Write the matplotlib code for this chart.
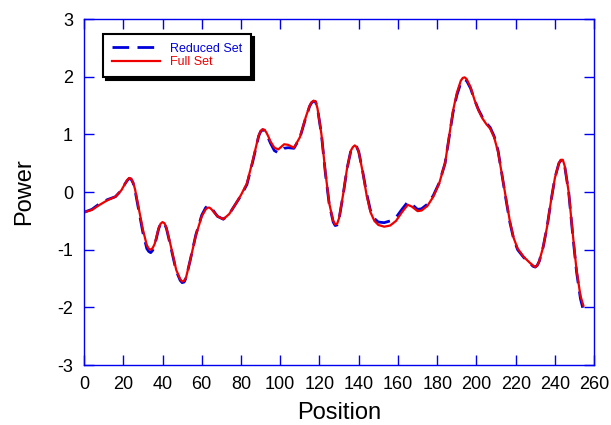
import matplotlib
matplotlib.use("Agg")
import matplotlib.pyplot as plt

plt.rcParams["font.family"] = ["Liberation Sans", "DejaVu Sans"]
plt.rcParams["axes.unicode_minus"] = False

position = [0, 4, 8, 12, 16, 19, 21, 22, 23, 24, 25, 26, 28, 30, 32, 33, 34, 35, 36,
            38, 39, 40, 41, 42, 44, 47, 49, 50, 51, 52, 54, 57, 60, 62, 63, 64, 65,
            68, 71, 74, 77, 80, 83, 86, 89, 90, 91, 92, 93, 94, 95, 97, 99, 102, 104,
            107, 110, 113, 115, 116, 117, 118, 119, 121, 123, 125, 127, 128, 129,
            130, 132, 134, 136, 137, 138, 139, 140, 142, 144, 146, 148, 150, 153,
            156, 159, 162, 165, 167, 170, 172, 175, 178, 181, 184, 186, 188, 190,
            192, 193, 194, 195, 197, 199, 201, 203, 205, 207, 209, 211, 213, 215,
            217, 219, 221, 224, 227, 229, 230, 231, 232, 234, 236, 238, 240, 242,
            243, 244, 245, 247, 249, 251, 253, 254.5]

full_set = [-0.35, -0.31, -0.22, -0.14, -0.08, 0.03, 0.15, 0.21, 0.245, 0.235, 0.17,
            0.05, -0.3, -0.65, -0.92, -0.98, -1.0, -0.97, -0.9, -0.63, -0.55, -0.52,
            -0.54, -0.62, -0.9, -1.35, -1.51, -1.55, -1.54, -1.48, -1.2, -0.75, -0.42,
            -0.3, -0.27, -0.27, -0.3, -0.42, -0.47, -0.38, -0.22, -0.05, 0.15, 0.55,
            0.98, 1.06, 1.09, 1.08, 1.03, 0.96, 0.88, 0.77, 0.74, 0.83, 0.82, 0.77,
            0.95, 1.3, 1.5, 1.56, 1.585, 1.575, 1.45, 1.0, 0.35, -0.2, -0.5, -0.56,
            -0.55, -0.45, -0.05, 0.4, 0.72, 0.78, 0.81, 0.78, 0.7, 0.35, -0.05, -0.35,
            -0.5, -0.57, -0.6, -0.58, -0.5, -0.35, -0.22, -0.25, -0.33, -0.32, -0.24,
            -0.08, 0.15, 0.5, 0.95, 1.4, 1.72, 1.93, 1.98, 1.99, 1.96, 1.82, 1.6, 1.42,
            1.28, 1.18, 1.1, 0.95, 0.7, 0.3, -0.1, -0.5, -0.8, -0.98, -1.12, -1.22,
            -1.28, -1.3, -1.27, -1.2, -0.95, -0.6, -0.15, 0.25, 0.5, 0.56, 0.56, 0.45,
            0.0, -0.7, -1.35, -1.8, -1.97]

reduced_set = [-0.35, -0.3, -0.2, -0.13, -0.08, 0.03, 0.15, 0.2, 0.235, 0.225, 0.16,
               0.03, -0.33, -0.7, -0.98, -1.03, -1.05, -1.01, -0.93, -0.64, -0.55,
               -0.52, -0.55, -0.63, -0.92, -1.37, -1.53, -1.57, -1.56, -1.49, -1.2,
               -0.74, -0.4, -0.27, -0.24, -0.24, -0.28, -0.42, -0.47, -0.38, -0.22,
               -0.06, 0.13, 0.53, 0.97, 1.05, 1.08, 1.07, 1.01, 0.93, 0.85, 0.72, 0.68,
               0.76, 0.77, 0.76, 0.94, 1.29, 1.49, 1.55, 1.575, 1.565, 1.45, 1.0,
               0.33, -0.22, -0.52, -0.58, -0.57, -0.46, -0.06, 0.4, 0.72, 0.77, 0.8,
               0.78, 0.7, 0.36, -0.02, -0.32, -0.46, -0.52, -0.53, -0.5, -0.44, -0.3,
               -0.17, -0.21, -0.3, -0.29, -0.21, -0.06, 0.16, 0.5, 0.93, 1.37, 1.68,
               1.89, 1.94, 1.95, 1.93, 1.8, 1.6, 1.43, 1.3, 1.2, 1.12, 0.97, 0.72, 0.3,
               -0.12, -0.52, -0.82, -1.0, -1.13, -1.23, -1.29, -1.3, -1.27, -1.2,
               -0.95, -0.6, -0.15, 0.25, 0.5, 0.55, 0.55, 0.44, 0.0, -0.72, -1.38,
               -1.85, -2.05]

fig = plt.figure(figsize=(6.11, 4.25), dpi=100)
ax = fig.add_axes([0.1375, 0.141, 0.835, 0.814])

ax.plot(position, reduced_set, color="#0000dd", linewidth=2, dashes=(6, 3),
        label="Reduced Set", solid_joinstyle="round", dash_joinstyle="round")
ax.plot(position, full_set, color="#ee0000", linewidth=1.6, label="Full Set",
        solid_joinstyle="round")

ax.set_xlim(0, 260)
ax.set_ylim(-3, 3)
ax.set_xticks(range(0, 261, 20))
ax.set_yticks(range(-3, 4))
ax.tick_params(direction="in", length=7, width=1, color="#0000ee",
               top=True, right=True, labelsize=13, pad=8)
for s in ax.spines.values():
    s.set_color("#0000ee")
    s.set_linewidth(1)

ax.set_xlabel("Position", fontsize=17, labelpad=6)
ax.set_ylabel("Power", fontsize=17, labelpad=16)

leg = ax.legend(loc="upper left", bbox_to_anchor=(0.037, 0.957), borderaxespad=0,
                fontsize=9, handlelength=3.9, fancybox=False, framealpha=1,
                edgecolor="black", shadow={"color": "black", "alpha": 1},
                borderpad=0.7, labelspacing=0.1)
leg.get_frame().set_linewidth(1.5)
for text, c in zip(leg.get_texts(), ["#0000dd", "#ee0000"]):
    text.set_color(c)

fig.savefig("out.png", dpi=100)
